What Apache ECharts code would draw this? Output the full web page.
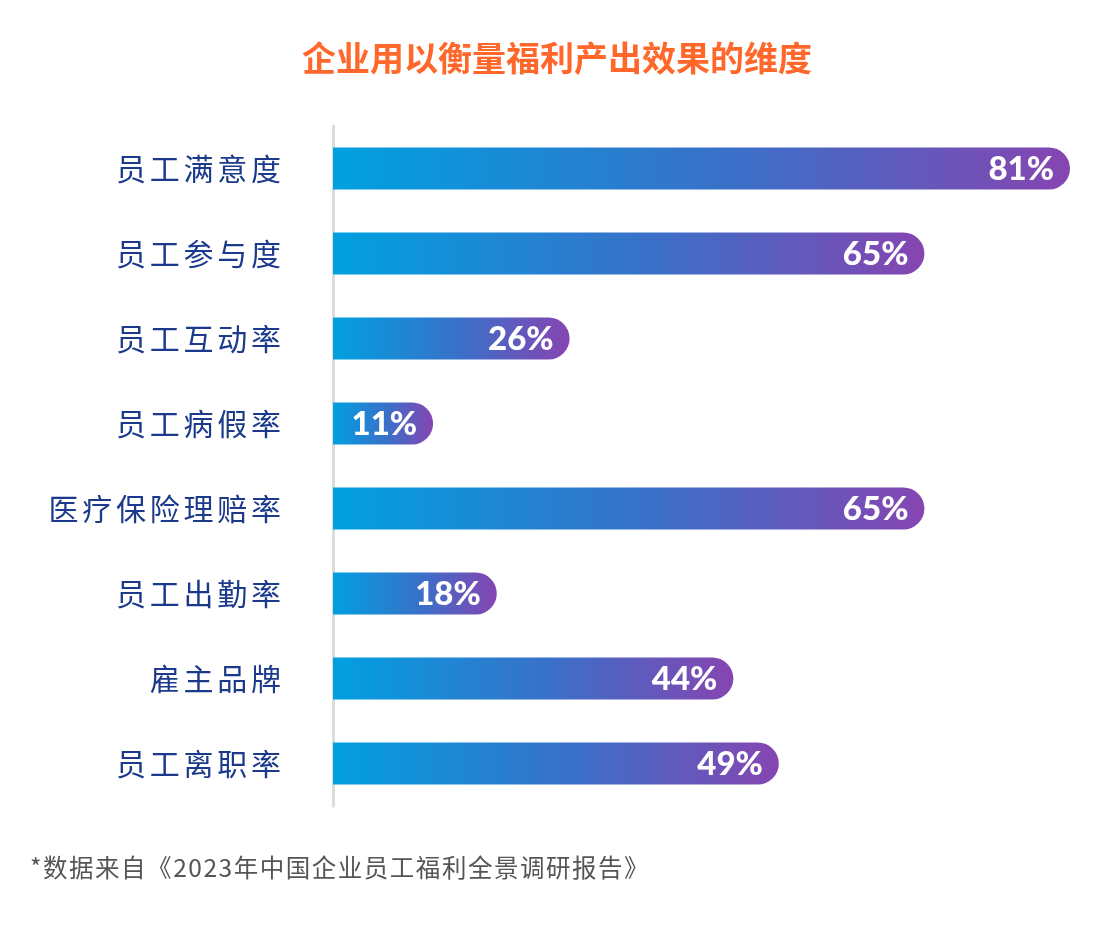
<!DOCTYPE html>
<html>
<head>
<meta charset="utf-8">
<script src="https://cdn.jsdelivr.net/npm/echarts@6/dist/echarts.min.js"></script>
<style>
  html, body { margin: 0; padding: 0; background: #fff; }
  #chart_main { width: 1114px; height: 926px; }
</style>
</head>
<body>
<div id="chart_main"></div>
<script>
var chartTitle = '企业用以衡量福利产出效果的维度';
var footNote = '*数据来自《2023年中国企业员工福利全景调研报告》';
var keys = ['员工满意度', '员工参与度', '员工互动率', '员工病假率', '医疗保险理赔率', '员工出勤率', '雇主品牌', '员工离职率'];
var values = [81, 65, 26, 11, 65, 18, 44, 49];

// spread characters a little, like the letter spacing in the original
function spaced(s, sp) {
    return s.split('').join(sp);
}

var myChart = echarts.init(document.getElementById('chart_main'));
var option = {
    backgroundColor: '#fff',
    title: [{
        text: chartTitle,
        left: 'center',
        top: 36,
        textStyle: {
            color: '#ff672b',
            fontSize: 34,
            fontWeight: 'bold',
            fontFamily: 'Noto Sans CJK SC'
        }
    }, {
        text: spaced(footNote, '\u200a'),
        left: 25,
        top: 850,
        textStyle: {
            color: '#555',
            fontSize: 24.5,
            fontWeight: 'normal',
            fontFamily: 'Noto Sans CJK SC'
        }
    }],
    grid: {
        left: 333,
        right: 44,
        top: 126,
        bottom: 120
    },
    xAxis: {
        type: 'value',
        min: 0,
        max: 81,
        show: false
    },
    yAxis: {
        type: 'category',
        data: keys,
        inverse: true,
        axisLine: { show: true, lineStyle: { color: '#dcdcdc', width: 3 } },
        axisTick: { show: false },
        axisLabel: {
            margin: 52,
            color: '#1b3a8c',
            fontSize: 30,
            fontFamily: 'Noto Sans CJK SC',
            formatter: function (v) { return spaced(v, '\u200a\u200a'); }
        }
    },
    series: [{
        type: 'bar',
        data: values,
        barWidth: 42,
        itemStyle: {
            borderRadius: [0, 21, 21, 0],
            color: new echarts.graphic.LinearGradient(0, 0, 1, 0, [
                { offset: 0, color: '#00a0e0' },
                { offset: 0.55, color: '#3b6fc8' },
                { offset: 1, color: '#8645b1' }
            ])
        },
        label: {
            show: true,
            position: 'insideRight',
            offset: [-11, 1],
            formatter: '{c}%',
            color: '#fff',
            fontSize: 33,
            fontWeight: 900,
            fontFamily: 'Lato'
        }
    }]
};
myChart.setOption(option);
</script>
</body>
</html>
